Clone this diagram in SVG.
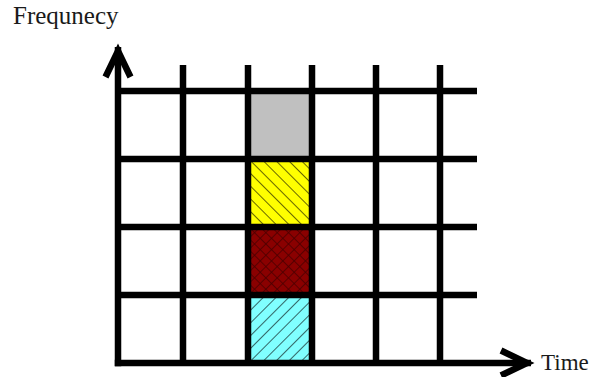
<svg xmlns="http://www.w3.org/2000/svg" width="592" height="377" viewBox="0 0 592 377">
  <style>
    .grid { stroke: #000; stroke-width: 6.5; fill: none; }
    .axis { stroke: #000; stroke-width: 6.5; fill: none; marker-end: url(#arrow); }
    .label { font-family: "Liberation Serif", "Times New Roman", serif; fill: #1a1a1a; }
  </style>
  <defs>
    <marker id="arrow" markerUnits="userSpaceOnUse" orient="auto" refX="0" refY="0" markerWidth="40" markerHeight="40" overflow="visible">
      <path d="M-30,-12.5 L-4,0 L-30,12.5" fill="none" stroke="#000" stroke-width="6.5" stroke-linejoin="miter"/>
    </marker>
    <pattern id="hatchBack" patternUnits="userSpaceOnUse" width="9" height="9" patternTransform="rotate(-45)">
      <rect width="9" height="9" fill="#ffff00"/>
      <line x1="0" y1="0" x2="0" y2="9" stroke="#000" stroke-width="1.2"/>
    </pattern>
    <pattern id="hatchFwd" patternUnits="userSpaceOnUse" width="9" height="9" patternTransform="rotate(45)">
      <rect width="9" height="9" fill="#80ffff"/>
      <line x1="0" y1="0" x2="0" y2="9" stroke="#000" stroke-width="1.2"/>
    </pattern>
    <pattern id="cross" patternUnits="userSpaceOnUse" width="8" height="8" patternTransform="rotate(45)">
      <rect width="8" height="8" fill="#8a0000"/>
      <line x1="0" y1="0" x2="0" y2="8" stroke="#4a0000" stroke-width="1.6"/>
      <line x1="0" y1="0" x2="8" y2="0" stroke="#4a0000" stroke-width="1.6"/>
    </pattern>
  </defs>

  <g id="cells">
    <rect id="cell-gray" x="248" y="91" width="64" height="68" fill="#c0c0c0"/>
    <rect id="cell-yellow" x="248" y="159" width="64" height="68" fill="url(#hatchBack)"/>
    <rect id="cell-red" x="248" y="227" width="64" height="68" fill="url(#cross)"/>
    <rect id="cell-cyan" x="248" y="295" width="64" height="68" fill="url(#hatchFwd)"/>
  </g>

  <g id="grid" class="grid">
    <line x1="118" y1="91" x2="477" y2="91"/>
    <line x1="118" y1="159" x2="477" y2="159"/>
    <line x1="118" y1="227" x2="477" y2="227"/>
    <line x1="118" y1="295" x2="477" y2="295"/>
    <line x1="183" y1="65" x2="183" y2="363"/>
    <line x1="248" y1="65" x2="248" y2="363"/>
    <line x1="312" y1="65" x2="312" y2="363"/>
    <line x1="376" y1="65" x2="376" y2="363"/>
    <line x1="440" y1="65" x2="440" y2="363"/>
  </g>

  <g id="connectors">
    <line class="axis" x1="118" y1="366.2" x2="118" y2="47"/>
    <line class="axis" x1="114.8" y1="363" x2="531" y2="363"/>
  </g>

  <g id="labels">
    <text class="label" x="13" y="24" font-size="25">Frequnecy</text>
    <text class="label" x="541" y="370" font-size="23">Time</text>
  </g>
</svg>
